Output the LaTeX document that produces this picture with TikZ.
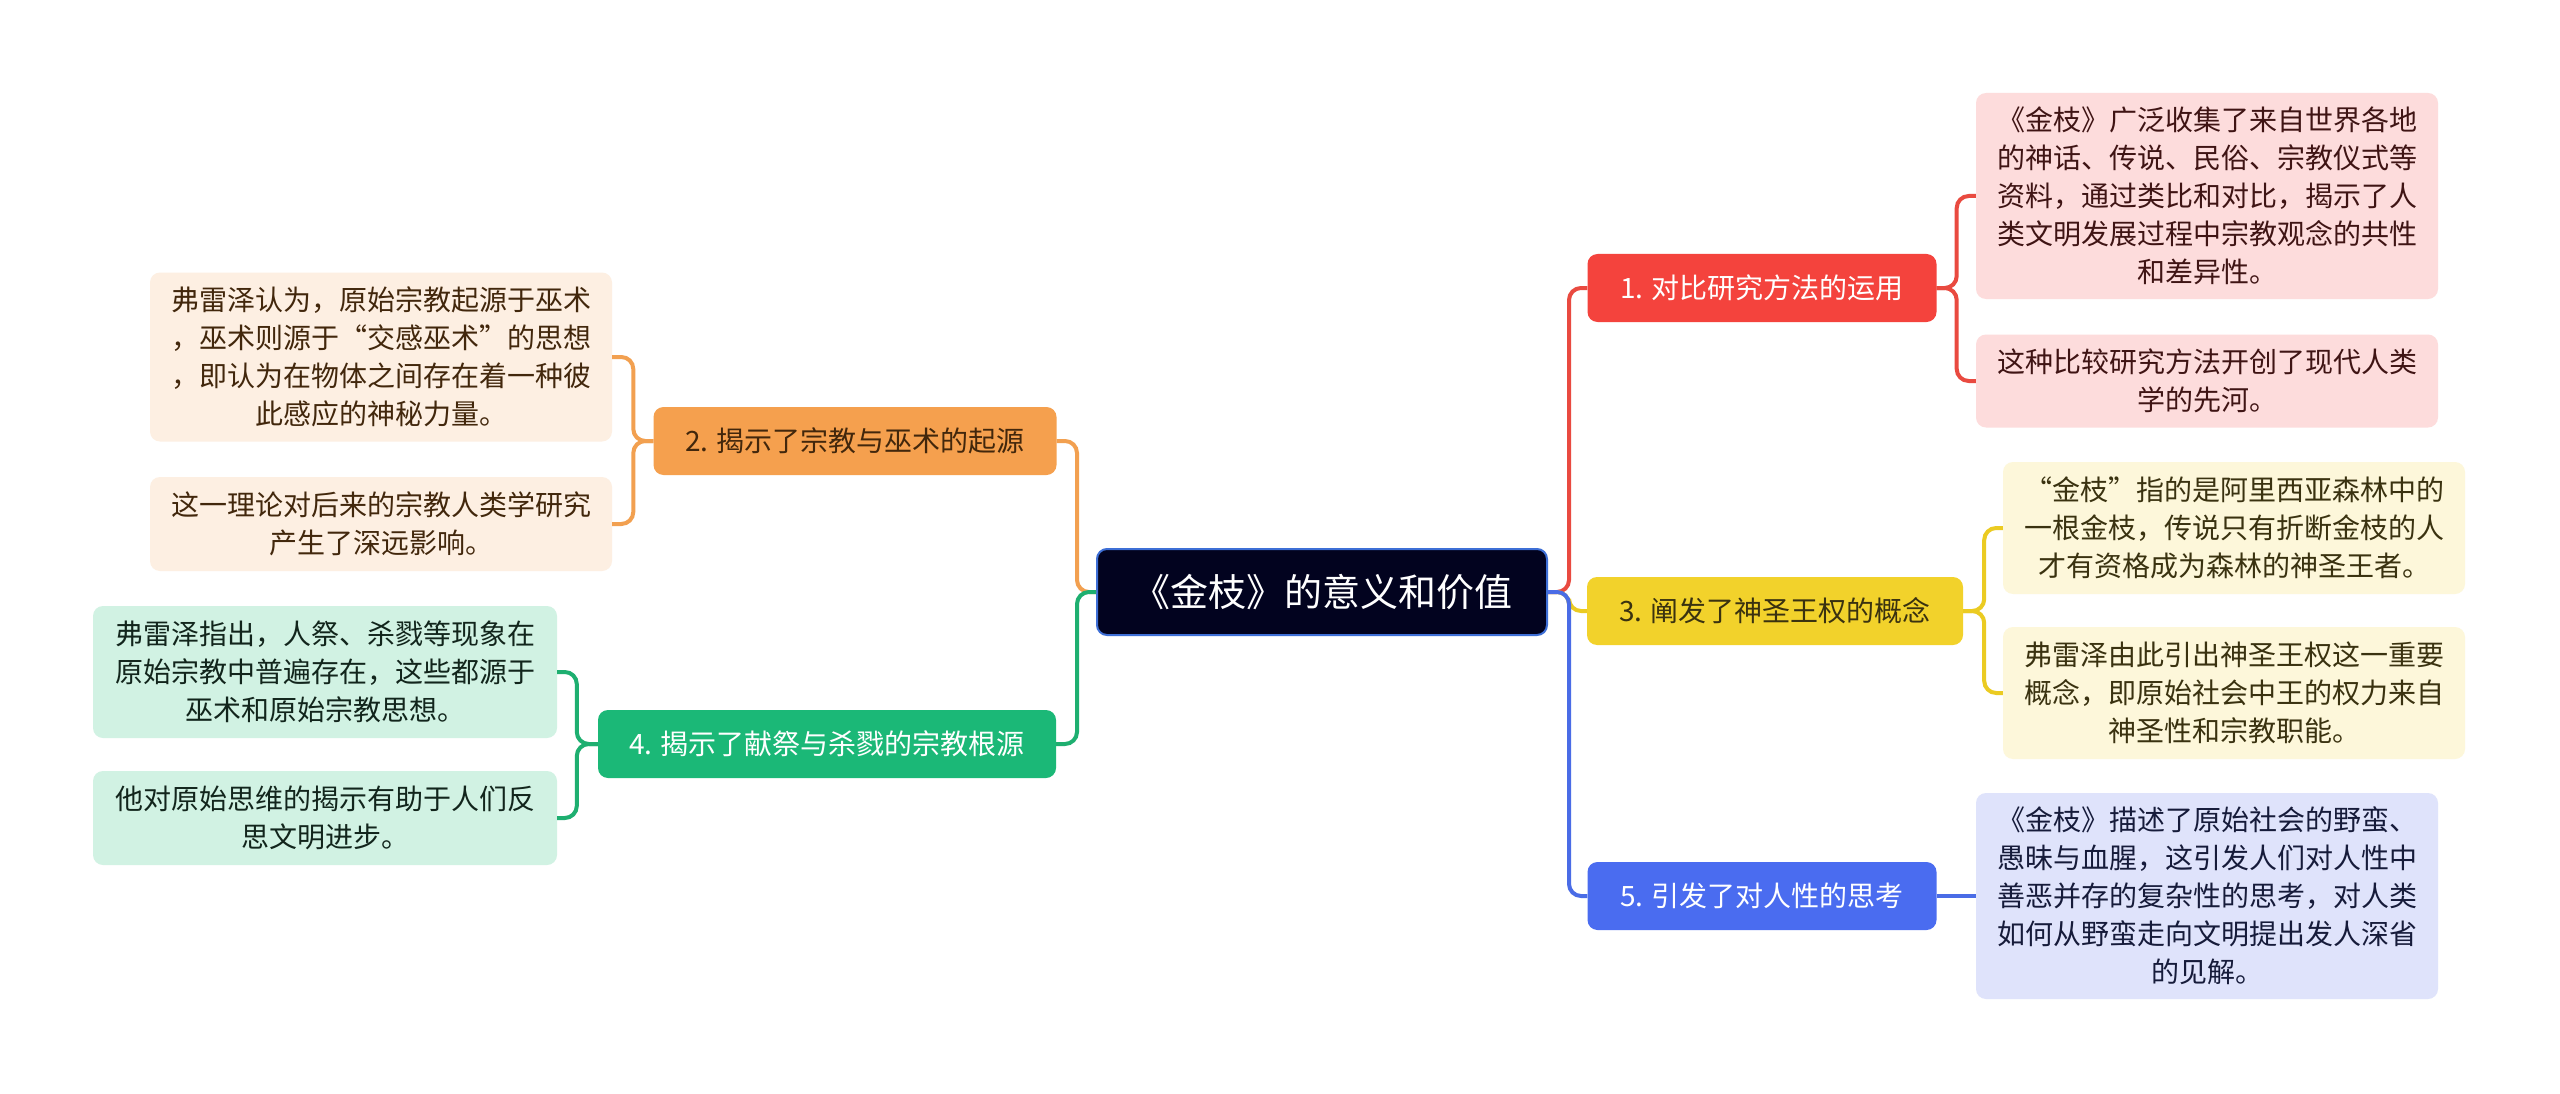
\documentclass[tikz,border=0pt]{standalone}
\usepackage{fontspec}
\setmainfont{Noto Sans CJK SC}
\definecolor{rootfill}{HTML}{02031F}
\definecolor{rootdraw}{HTML}{3E6FD6}
\definecolor{redc}{HTML}{F4433D}
\definecolor{redl}{HTML}{E94A40}
\definecolor{redleaf}{HTML}{FDDCDC}
\definecolor{redtext}{HTML}{3F1414}
\definecolor{orac}{HTML}{F5A04E}
\definecolor{oral}{HTML}{F2A050}
\definecolor{oraleaf}{HTML}{FDEFE2}
\definecolor{oratext}{HTML}{42270C}
\definecolor{yelc}{HTML}{F2D22B}
\definecolor{yell}{HTML}{EBCB22}
\definecolor{yelleaf}{HTML}{FDF7DA}
\definecolor{yeltext}{HTML}{3A3210}
\definecolor{grec}{HTML}{1BB877}
\definecolor{grel}{HTML}{1EAF70}
\definecolor{greleaf}{HTML}{D1F2E3}
\definecolor{gretext}{HTML}{12251C}
\definecolor{bluc}{HTML}{4A6CF0}
\definecolor{blul}{HTML}{4A6CE6}
\definecolor{bluleaf}{HTML}{DFE3FB}
\definecolor{blutext}{HTML}{161B3A}
\begin{document}
\begin{tikzpicture}[x=1pt,y=-1pt,
  box/.style={rounded corners=10pt, inner sep=0pt, align=center, font=\fontsize{28}{38}\selectfont},
  rootbox/.style={box, fill=rootfill, draw=rootdraw, line width=2pt, text=white,
    minimum width=450pt, minimum height=86pt, font=\fontsize{38}{46}\selectfont},
  topic/.style={box, minimum height=68pt},
  leaf/.style={box, minimum width=462pt},
  link/.style={line width=4pt, rounded corners=12pt}
]
\useasboundingbox (0,0) rectangle (2560,1094);
\fill[white] (0,0) rectangle (2560,1094);

% root
\node[rootbox] (c) at (1322,592) {《金枝》的意义和价值};

% topics
\node[topic, fill=redc, text=white, minimum width=349pt] (n1) at (1762,288) {1. 对比研究方法的运用};
\node[topic, fill=orac, text=oratext, minimum width=403pt] (n2) at (855,441) {2. 揭示了宗教与巫术的起源};
\node[topic, fill=yelc, text=yeltext, minimum width=376pt] (n3) at (1775,611) {3. 阐发了神圣王权的概念};
\node[topic, fill=grec, text=white, minimum width=458pt] (n4) at (827,744) {4. 揭示了献祭与杀戮的宗教根源};
\node[topic, fill=bluc, text=white, minimum width=349pt] (n5) at (1762,896) {5. 引发了对人性的思考};

% leaves
\node[leaf, fill=redleaf, text=redtext, minimum height=206pt] (l1a) at (2207,196)
  {《金枝》广泛收集了来自世界各地\\的神话、传说、民俗、宗教仪式等\\资料，通过类比和对比，揭示了人\\类文明发展过程中宗教观念的共性\\和差异性。};
\node[leaf, fill=redleaf, text=redtext, minimum height=93pt] (l1b) at (2207,381)
  {这种比较研究方法开创了现代人类\\学的先河。};
\node[leaf, fill=yelleaf, text=yeltext, minimum height=132pt] (l3a) at (2234,528)
  {“金枝”指的是阿里西亚森林中的\\一根金枝，传说只有折断金枝的人\\才有资格成为森林的神圣王者。};
\node[leaf, fill=yelleaf, text=yeltext, minimum height=132pt] (l3b) at (2234,693)
  {弗雷泽由此引出神圣王权这一重要\\概念，即原始社会中王的权力来自\\神圣性和宗教职能。};
\node[leaf, fill=bluleaf, text=blutext, minimum height=206pt] (l5) at (2207,896)
  {《金枝》描述了原始社会的野蛮、\\愚昧与血腥，这引发人们对人性中\\善恶并存的复杂性的思考，对人类\\如何从野蛮走向文明提出发人深省\\的见解。};
\node[leaf, fill=oraleaf, text=oratext, minimum height=169pt] (l2a) at (381,357)
  {弗雷泽认为，原始宗教起源于巫术\\，巫术则源于“交感巫术”的思想\\，即认为在物体之间存在着一种彼\\此感应的神秘力量。};
\node[leaf, fill=oraleaf, text=oratext, minimum height=94pt] (l2b) at (381,524)
  {这一理论对后来的宗教人类学研究\\产生了深远影响。};
\node[leaf, fill=greleaf, text=gretext, minimum height=132pt, minimum width=464pt] (l4a) at (325,672)
  {弗雷泽指出，人祭、杀戮等现象在\\原始宗教中普遍存在，这些都源于\\巫术和原始宗教思想。};
\node[leaf, fill=greleaf, text=gretext, minimum height=94pt, minimum width=464pt] (l4b) at (325,818)
  {他对原始思维的揭示有助于人们反\\思文明进步。};

% connectors: root to topics
\draw[link, draw=redl] (c.east) -- ++(21,0) |- (n1.west);
\draw[link, draw=yell] (c.east) -- ++(21,0) |- (n3.west);
\draw[link, draw=blul] (c.east) -- ++(21,0) |- (n5.west);
\draw[link, draw=oral] (c.west) -- ++(-19,0) |- (n2.east);
\draw[link, draw=grel] (c.west) -- ++(-19,0) |- (n4.east);

% connectors: topics to leaves
\draw[link, draw=redl] (n1.east) -- ++(20,0) |- (l1a.west);
\draw[link, draw=redl] (n1.east) -- ++(20,0) |- (l1b.west);
\draw[link, draw=yell] (n3.east) -- ++(21,0) |- (l3a.west);
\draw[link, draw=yell] (n3.east) -- ++(21,0) |- (l3b.west);
\draw[link, draw=blul] (n5.east) -- (l5.west);
\draw[link, draw=oral] (n2.west) -- ++(-20,0) |- (l2a.east);
\draw[link, draw=oral] (n2.west) -- ++(-20,0) |- (l2b.east);
\draw[link, draw=grel] (n4.west) -- ++(-21,0) |- (l4a.east);
\draw[link, draw=grel] (n4.west) -- ++(-21,0) |- (l4b.east);
\end{tikzpicture}
\end{document}
